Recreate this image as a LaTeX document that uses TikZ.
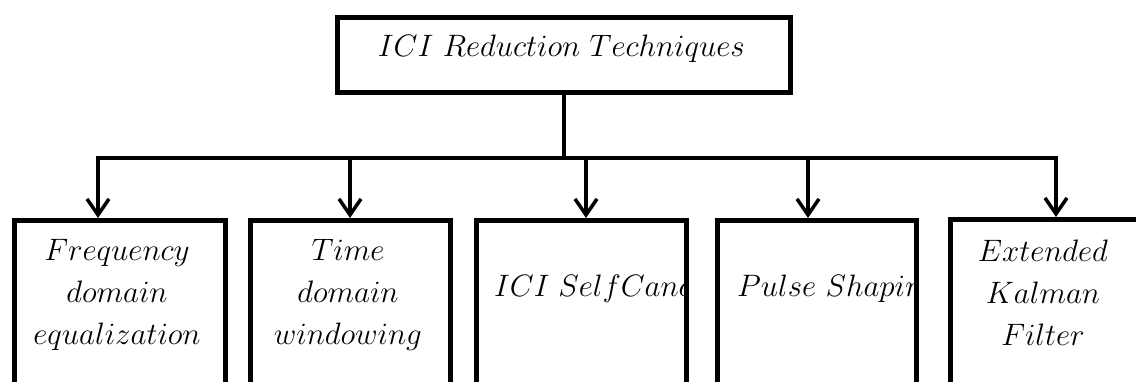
\RequirePackage{fix-cm}
\documentclass[tikz,border=0pt]{standalone}
\usetikzlibrary{arrows.meta}
\begin{document}
\begin{tikzpicture}[x=1pt,y=-1pt,
		box/.style={draw, line width=5pt, inner sep=0pt, anchor=north west},
		lbl/.style={font=\fontsize{31}{42}\selectfont, align=center, inner sep=0pt},
		bus/.style={line width=3.5pt, line cap=rect},
		arr/.style={line width=3.5pt, -{Straight Barb[length=16pt,width=22pt]}}]
			\useasboundingbox (0,0) rectangle (1136,382);
			\clip (0,0) rectangle (1136,382);
			
			\node[box, minimum width=453pt, minimum height=75pt] (root) at (335,15) {};
			\node[lbl] (rt) at (561.5,49) {$ICI\ Reduction\ Techniques$};
			
			\node[box, minimum width=211pt, minimum height=220pt] (b1) at (12,218) {};
			\node[box, minimum width=200pt, minimum height=220pt] (b2) at (248,218) {};
			\node[box, minimum width=210pt, minimum height=220pt] (b3) at (474,218) {};
			\node[box, minimum width=199pt, minimum height=220pt] (b4) at (715,218) {};
			\node[box, minimum width=192pt, minimum height=220pt] (b5) at (948,217) {};
			
			\node[lbl] (t1) at (117,295) {$Frequency$\\$domain$\\$equalization$};
			\node[lbl] (t2) at (348,295) {$Time$\\$domain$\\$windowing$};
			\node[lbl] (t5) at (1043,293) {$Extended$\\$Kalman$\\$Filter$};
			\begin{scope}
				\clip (474,218) rectangle (684,382);
				\node[lbl, anchor=base west] (t3) at (494,297) {$ICI\;SelfCance$};
			\end{scope}
			\begin{scope}
				\clip (715,218) rectangle (914,382);
				\node[lbl, anchor=base west] (t4) at (737,297) {$Pulse~Shapin$};
			\end{scope}
			
			\coordinate (j1) at (98,158);
			\coordinate (j2) at (350,158);
			\coordinate (j3) at (586,158);
			\coordinate (j4) at (808,158);
			\coordinate (j5) at (1056,158);
			
			\draw[bus] (root.south) -- (root.south |- j1);
			\draw[bus] (j1) -- (j5);
			\draw[arr] (j1) -- (j1 |- b1.north);
			\draw[arr] (j2) -- (j2 |- b2.north);
			\draw[arr] (j3) -- (j3 |- b3.north);
			\draw[arr] (j4) -- (j4 |- b4.north);
			\draw[arr] (j5) -- (j5 |- b5.north);
		\end{tikzpicture}
\end{document}
